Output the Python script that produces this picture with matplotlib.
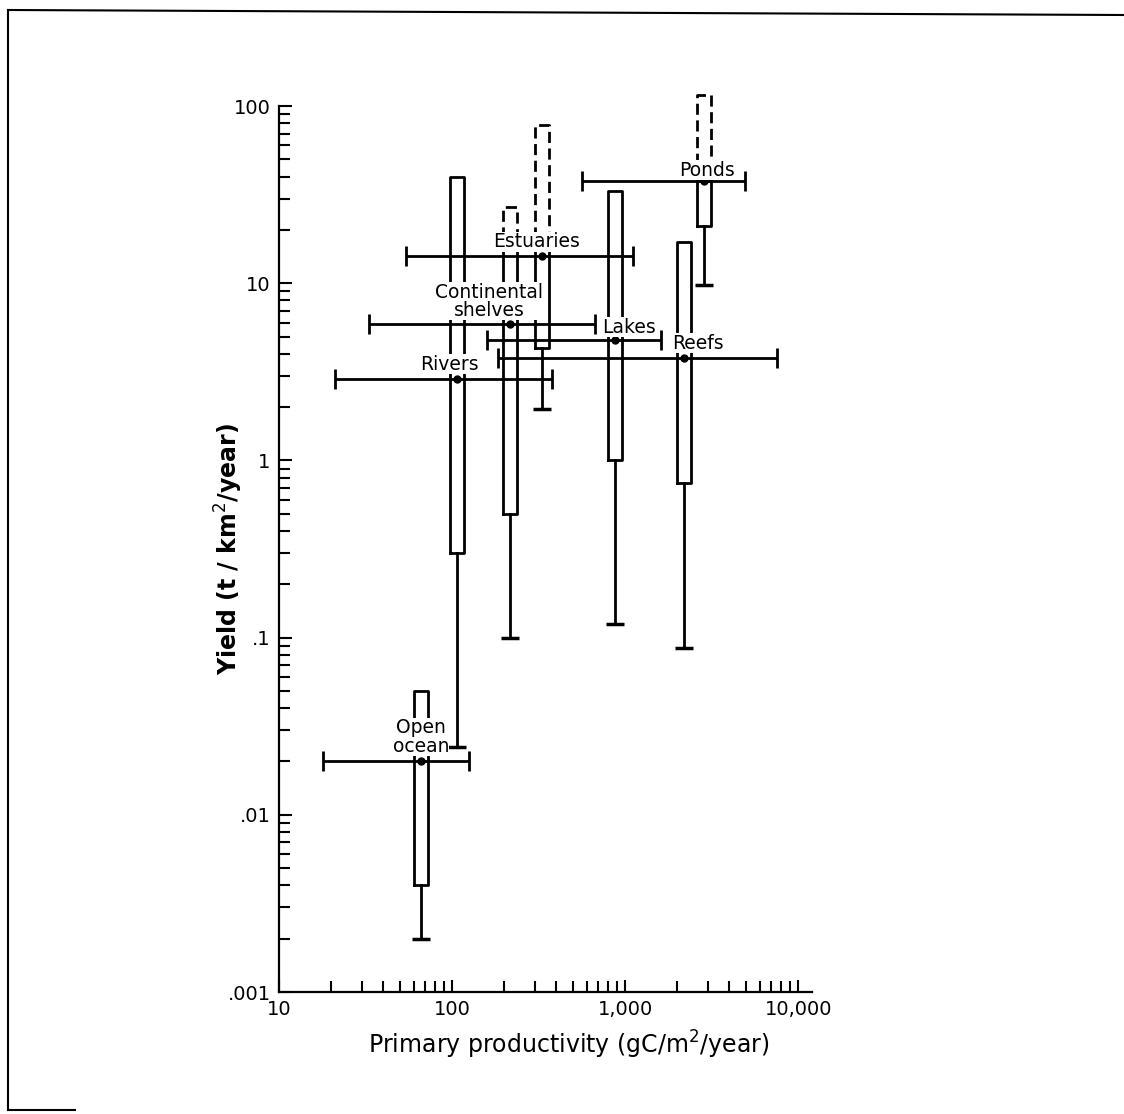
import matplotlib.pyplot as plt
import numpy as np
from matplotlib.lines import Line2D

# yield vs primary productivity for seven kinds of water
names = ['Open\nocean', 'Rivers', 'Continental\nshelves', 'Estuaries', 'Lakes', 'Reefs', 'Ponds']
prod_mean = [66, 107, 215, 330, 870, 2180, 2850]
prod_lo = [18, 21, 33, 54, 160, 183, 560]
prod_hi = [126, 376, 667, 1110, 1600, 7550, 4930]
yield_mean = [0.02, 2.9, 5.9, 14.2, 4.8, 3.8, 37.7]
box_lo = [0.004, 0.3, 0.5, 4.3, 1.0, 0.75, 21]
box_hi = [0.05, 40, 18, 18, 33, 17, 38]
dash_hi = [None, None, 27, 78, None, None, 115]
yield_min = [0.002, 0.024, 0.1, 1.95, 0.12, 0.087, 9.8]

# where the names sit (data coords)
label_x = [66, 96, 164, 308, 1050, 2630, 2965]
label_y = [0.0275, 3.5, 7.9, 17.1, 5.66, 4.6, 43.5]

fig = plt.figure(figsize=(11.24, 11.14), dpi=100)
ax = fig.add_axes([0.2482, 0.1095, 0.4742, 0.7953])
ax.set_xscale('log')
ax.set_yscale('log')
ax.set_xlim(10, 12000)
ax.set_ylim(0.001, 100)

lw = 2.0
f = 10 ** (7 / 173)  # half box width, as a factor on the log axis

for i in range(len(names)):
    x = prod_mean[i]
    # productivity range
    ax.errorbar(x, yield_mean[i], xerr=[[x - prod_lo[i]], [prod_hi[i] - x]],
                fmt='o', color='black', ms=5, elinewidth=lw, capsize=7, capthick=lw,
                zorder=3)
    # yield box
    xl, xr = x / f, x * f
    ax.plot([xl, xr, xr, xl, xl], [box_lo[i], box_lo[i], box_hi[i], box_hi[i], box_lo[i]],
            color='black', lw=lw, zorder=2)
    if dash_hi[i] is not None:
        ax.plot([xl, xl, xr, xr], [box_hi[i], dash_hi[i], dash_hi[i], box_hi[i]],
                color='black', lw=lw, ls=(0, (4, 2)), zorder=2, clip_on=False)
    # whisker down to the minimum
    ax.plot([x, x], [yield_min[i], box_lo[i]], color='black', lw=lw, zorder=2)
    ax.plot(x, yield_min[i], marker='_', ms=13, mew=2.5, color='black', zorder=2)
    ax.text(label_x[i], label_y[i], names[i], ha='center', va='center', fontsize=13.5,
            linespacing=0.95, zorder=4,
            bbox=dict(facecolor='white', edgecolor='none', pad=0.3))

for s in ['top', 'right']:
    ax.spines[s].set_visible(False)
for s in ['left', 'bottom']:
    ax.spines[s].set_linewidth(1.6)

ax.set_xticks([10, 100, 1000, 10000], ['10', '100', '1,000', '10,000'])
ax.set_yticks([0.001, 0.01, 0.1, 1, 10, 100], ['.001', '.01', '.1', '1', '10', '100'])
ax.tick_params(which='major', direction='in', length=9, width=1.5, labelsize=14, pad=6)
ax.tick_params(which='minor', direction='in', length=8, width=1.5)

ax.set_xlabel('Primary productivity (gC/m$^2$/year)', fontsize=17)
ax.set_ylabel('Yield (t / km$^2$/year)', fontsize=17, fontweight='bold')
ax.xaxis.set_label_coords(0.544, -0.041)
ax.yaxis.set_label_coords(-0.064, 0.5)

# scanned page frame
fig.add_artist(Line2D([8 / 1124, 8 / 1124], [1 - 1110 / 1114, 1 - 10 / 1114],
                      transform=fig.transFigure, color='black', lw=1.5))
fig.add_artist(Line2D([8 / 1124, 1], [1 - 10 / 1114, 1 - 15 / 1114],
                      transform=fig.transFigure, color='black', lw=1.5))
fig.add_artist(Line2D([8 / 1124, 75 / 1124], [1 - 1110 / 1114, 1 - 1110 / 1114],
                      transform=fig.transFigure, color='black', lw=1.5))

fig.savefig('out.png', dpi=100)
